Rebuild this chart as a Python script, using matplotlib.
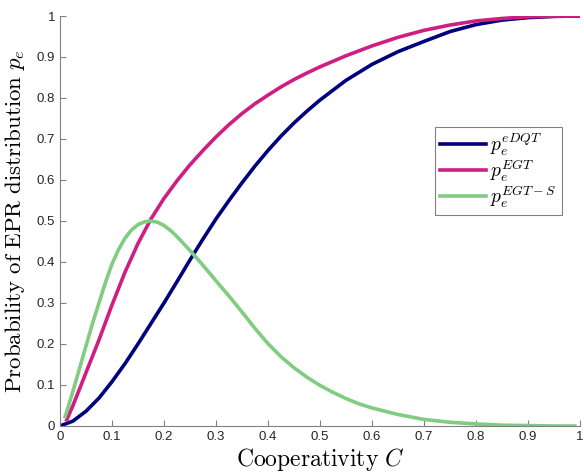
import numpy as np
import matplotlib
matplotlib.use('Agg')
import matplotlib.pyplot as plt

plt.rcParams['mathtext.fontset'] = 'cm'

# eDQT (blue)
c_dqt = [0, 0.025, 0.05, 0.075, 0.1, 0.125, 0.15, 0.175, 0.2, 0.225, 0.25, 0.275,
         0.3, 0.325, 0.35, 0.375, 0.4, 0.425, 0.45, 0.475, 0.5, 0.55, 0.6, 0.65,
         0.7, 0.75, 0.8, 0.85, 0.9, 0.95, 1.0]
p_dqt = [0, 0.012, 0.036, 0.068, 0.108, 0.152, 0.2, 0.25, 0.3, 0.352, 0.405, 0.456,
         0.505, 0.55, 0.593, 0.634, 0.672, 0.707, 0.739, 0.768, 0.795, 0.843, 0.882,
         0.913, 0.938, 0.962, 0.979, 0.99, 0.996, 0.999, 1.0]

# EGT (magenta)
c_egt = [0.013, 0.025, 0.05, 0.075, 0.1, 0.125, 0.15, 0.175, 0.2, 0.225, 0.25, 0.275,
         0.3, 0.325, 0.35, 0.375, 0.4, 0.425, 0.45, 0.475, 0.5, 0.55, 0.6, 0.65,
         0.7, 0.75, 0.8, 0.85, 0.9, 0.95, 1.0]
p_egt = [0.015, 0.05, 0.13, 0.21, 0.295, 0.375, 0.445, 0.505, 0.555, 0.598, 0.637,
         0.672, 0.705, 0.735, 0.762, 0.786, 0.807, 0.827, 0.845, 0.861, 0.876, 0.903,
         0.927, 0.948, 0.965, 0.978, 0.988, 0.994, 0.998, 0.9995, 1.0]

# EGT-S (green)
c_egts = [0.01, 0.025, 0.0375, 0.05, 0.0625, 0.075, 0.0875, 0.1, 0.1125, 0.125,
          0.1375, 0.15, 0.1625, 0.175, 0.1875, 0.2, 0.2125, 0.225, 0.25, 0.275, 0.3,
          0.325, 0.35, 0.375, 0.4, 0.425, 0.45, 0.475, 0.5, 0.525, 0.55, 0.575, 0.6,
          0.65, 0.7, 0.75, 0.8, 0.85, 0.9, 0.95, 0.99]
p_egts = [0.023, 0.085, 0.14, 0.195, 0.25, 0.3, 0.35, 0.395, 0.43, 0.458,
          0.478, 0.491, 0.498, 0.5, 0.497, 0.489, 0.477, 0.462, 0.428, 0.392, 0.354,
          0.317, 0.278, 0.238, 0.201, 0.169, 0.142, 0.119, 0.099, 0.082, 0.067, 0.054,
          0.044, 0.028, 0.016, 0.009, 0.005, 0.002, 0.001, 0.0, 0.0]

ticks = [0, 0.1, 0.2, 0.3, 0.4, 0.5, 0.6, 0.7, 0.8, 0.9, 1]
tick_labels = ['0', '0.1', '0.2', '0.3', '0.4', '0.5', '0.6', '0.7', '0.8', '0.9', '1']

fig = plt.figure(figsize=(5.84, 4.72), dpi=100)
ax = fig.add_axes([0.1027, 0.0975, 0.8904, 0.8686])

ax.plot(c_dqt, p_dqt, color='#00007F', lw=2.6, label=r'$p_e^{eDQT}$')
ax.plot(c_egt, p_egt, color='#CF1E82', lw=2.6, label=r'$p_e^{EGT}$')
ax.plot(c_egts, p_egts, color='#80CC80', lw=2.6, label=r'$p_e^{EGT-S}$')

ax.set_xlim(0, 1)
ax.set_ylim(0, 1)
ax.set_xticks(ticks)
ax.set_xticklabels(tick_labels)
ax.set_yticks(ticks)
ax.set_yticklabels(tick_labels)
for s in ['top', 'right']:
    ax.spines[s].set_visible(False)
for s in ['left', 'bottom']:
    ax.spines[s].set_color('#808080')
    ax.spines[s].set_linewidth(0.8)
ax.tick_params(direction='in', length=4, width=0.8, color='#808080',
               labelsize=9.5, labelcolor='#262626')
for lab in ax.get_xticklabels() + ax.get_yticklabels():
    lab.set_family('Liberation Sans')

ax.set_xlabel(r'$\mathrm{Cooperativity}\ C$', fontsize=17, labelpad=2)
ax.set_ylabel(r'$\mathrm{Probability\ of\ EPR\ distribution}\ p_e$', fontsize=16.5, labelpad=7)

leg = ax.legend(loc='upper left', bbox_to_anchor=(0.721, 0.729), fontsize=14,
                fancybox=False, framealpha=1, edgecolor='#808080',
                handlelength=2.4, handletextpad=0.2, labelspacing=-0.05,
                borderpad=0.25, borderaxespad=0)
leg.get_frame().set_linewidth(0.8)

fig.savefig('out.png', dpi=100)
